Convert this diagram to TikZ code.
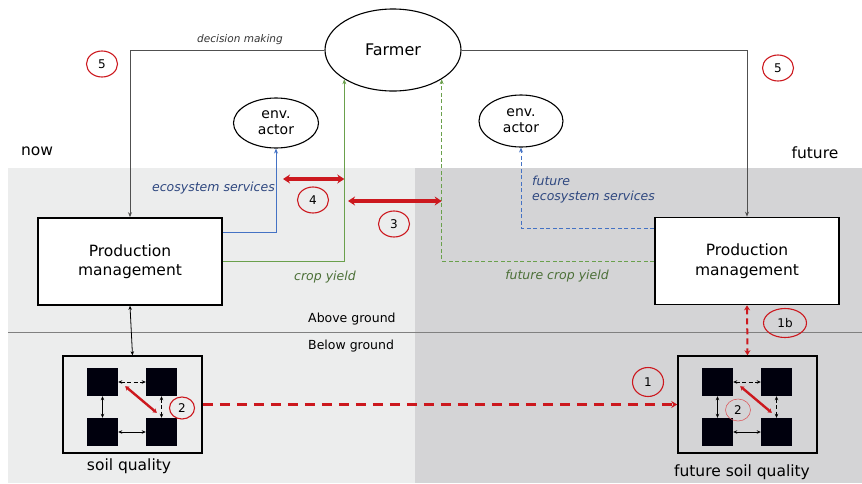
\documentclass[tikz,border=0pt]{standalone}
\usepackage{fontspec}
\setmainfont{DejaVu Sans}
\usetikzlibrary{arrows.meta,shapes.geometric,calc}

\definecolor{bgnow}{RGB}{236,237,237}
\definecolor{bgfut}{RGB}{212,212,214}
\definecolor{mark}{RGB}{204,24,30}
\definecolor{esblue}{RGB}{68,114,196}
\definecolor{estext}{RGB}{47,72,128}
\definecolor{cygreen}{RGB}{106,160,76}
\definecolor{cytext}{RGB}{76,112,56}
\definecolor{groundline}{RGB}{128,128,128}
\definecolor{decline}{RGB}{80,80,80}

\tikzset{
  actor/.style={ellipse, draw, line width=1.1pt, inner sep=0pt, align=center},
  pmbox/.style={draw, line width=1.6pt, fill=white, minimum width=184pt,
    minimum height=87pt, inner sep=0pt, align=center,
    font=\fontsize{15.5}{19.5}\selectfont},
  tag/.style={ellipse, draw=mark, line width=1.1pt, minimum width=31pt,
    minimum height=26pt, inner sep=0pt, font=\fontsize{12}{12}\selectfont},
  plain/.style={inner sep=0pt},
  flowlabel/.style={inner sep=0pt, font=\fontsize{12.5}{15}\selectfont\itshape},
  link/.style={line width=0.9pt, -{Stealth[length=5pt,width=4pt]}},
  finedash/.style={dash pattern=on 4pt off 2.5pt},
  twoway/.style={line width=0.8pt,
    {Stealth[length=4pt,width=3.5pt]}-{Stealth[length=4pt,width=3.5pt]}},
  bigtwoway/.style={draw=mark, line width=3.2pt,
    {Stealth[length=7pt,width=9pt]}-{Stealth[length=7pt,width=9pt]}},
  soilsq/.style={fill=black!95!blue, minimum width=31pt, minimum height=28pt,
    inner sep=0pt},
  soil/.pic={
    \node[draw, line width=1.5pt, minimum width=139pt, minimum height=97pt,
      inner sep=0pt] (-box) at (0,0) {};
    \node[soilsq] (-tl) at (-30,-22.5) {};
    \node[soilsq] (-tr) at (29,-22.5) {};
    \node[soilsq] (-bl) at (-30,27.5) {};
    \node[soilsq] (-br) at (29,27.5) {};
    \draw[twoway, finedash] (-tl.east) -- (-tr.west);
    \draw[twoway] (-tl.south) -- (-bl.north);
    \draw[twoway] (-bl.east) -- (-br.west);
    \draw[twoway, finedash] (-tr.south) -- (-br.north);
    \draw[draw=mark, line width=2.4pt,
      {Stealth[length=4pt,width=5pt]}-{Stealth[length=4pt,width=5pt]}]
      ($(-tl.south east)+(7,-10)$) -- ($(-br.north west)+(11,-5)$);
  }
}

\begin{document}
\begin{tikzpicture}[x=1pt, y=-1pt]
\useasboundingbox (0,0) rectangle (862,483);

% time panels and the ground surface
\fill[bgnow] (8,168) rectangle (415,483);
\fill[bgfut] (415,168) rectangle (862,483);
\draw[groundline, line width=1pt] (8,332) -- (862,332);

\node[plain, font=\fontsize{15.5}{18}\selectfont] (now) at (37,151) {now};
\node[plain, font=\fontsize{15.5}{18}\selectfont] (future) at (815,153) {future};
\node[plain, anchor=west, font=\fontsize{12.5}{15}\selectfont] (above) at (308,319) {Above ground};
\node[plain, anchor=west, font=\fontsize{12.5}{15}\selectfont] (below) at (308,346) {Below ground};

% actors
\node[actor, minimum width=136pt, minimum height=82pt,
  font=\fontsize{16}{19}\selectfont] (farmer) at (393,50) {Farmer};
\node[actor, minimum width=85pt, minimum height=50pt,
  font=\fontsize{14}{16}\selectfont] (envL) at (276,123) {env.\\actor};
\node[actor, minimum width=84pt, minimum height=52pt,
  font=\fontsize{14}{16}\selectfont] (envR) at (521,121) {env.\\actor};

% production management, now and future
\node[pmbox] (pmL) at (130,261.5) {Production\\management};
\node[pmbox] (pmR) at (747,261) {Production\\management};

% soil quality blocks
\pic (sL) at (132.5,404.5) {soil};
\pic (sR) at (747.5,404.5) {soil};
\node[plain, font=\fontsize{15.5}{18}\selectfont] (sLlabel) at (129,466) {soil quality};
\node[plain, font=\fontsize{15.5}{18}\selectfont] (sRlabel) at (742,472) {future soil quality};

% decision making
\draw[link, decline, line width=0.8pt] (farmer.west) -| (pmL.north);
\draw[link, decline, line width=0.8pt] (farmer.east) -| (pmR.north);
\node[plain, font=\fontsize{10.5}{12}\selectfont\itshape, text=black!80] (dm) at (240,40) {decision making};

% ecosystem services
\coordinate (esL) at ($(pmL.east)+(0,-29.5)$);
\draw[link, esblue] (esL) -| (envL.south);
\node[flowlabel, text=estext, anchor=east] (esLlabel) at (275,188) {ecosystem services};
\coordinate (esR) at ($(pmR.west)+(0,-33)$);
\draw[link, esblue, finedash] (esR) -| (envR.south);
\node[flowlabel, text=estext, anchor=north west, align=left] (esRlabel) at (532,176)
  {future\\ecosystem services};

% crop yield
\coordinate (fyL) at (farmer.211);
\coordinate (fyR) at (farmer.329);
\draw[link, cygreen] (pmL.east) -| (fyL);
\draw[link, cygreen, finedash] (pmR.west) -| (fyR);
\node[flowlabel, text=cytext] (cyL) at (325,277) {crop yield};
\node[flowlabel, text=cytext] (cyR) at (557,276) {future crop yield};

% trade-offs
\coordinate (t4a) at (283,179);
\coordinate (t4b) at (fyL |- t4a);
\draw[bigtwoway] (t4a) -- (t4b);
\coordinate (t3a) at (348,201);
\coordinate (t3b) at (fyR |- t3a);
\draw[bigtwoway] (t3a) -- (t3b);

% management to soil
\draw[twoway] (pmL.south) -- (sL-box.north);
\draw[draw=mark, line width=2pt, dash pattern=on 6pt off 4pt,
  {Stealth[length=5pt,width=6pt]}-{Stealth[length=5pt,width=6pt]}]
  (pmR.south) -- (sR-box.north);
\draw[draw=mark, line width=2.3pt, dash pattern=on 10pt off 7pt,
  -{Stealth[length=6pt,width=7pt]}] (sL-box.east) -- (sR-box.west);

% numbered markers
\node[tag] (m5L) at (102,64) {5};
\node[tag] (m5R) at (778,68) {5};
\node[tag] (m4) at (313,200) {4};
\node[tag] (m3) at (394,224) {3};
\node[tag, minimum width=43pt, minimum height=29pt] (m1b) at (785,323) {1b};
\node[tag, minimum height=29pt] (m1) at (648,382) {1};
\node[tag, minimum width=25pt, minimum height=22pt] (m2L) at (182,408) {2};
\node[tag, minimum width=25pt, minimum height=22pt, line width=0.6pt,
  draw=mark!70] (m2R) at (738,410) {2};
\end{tikzpicture}
\end{document}
